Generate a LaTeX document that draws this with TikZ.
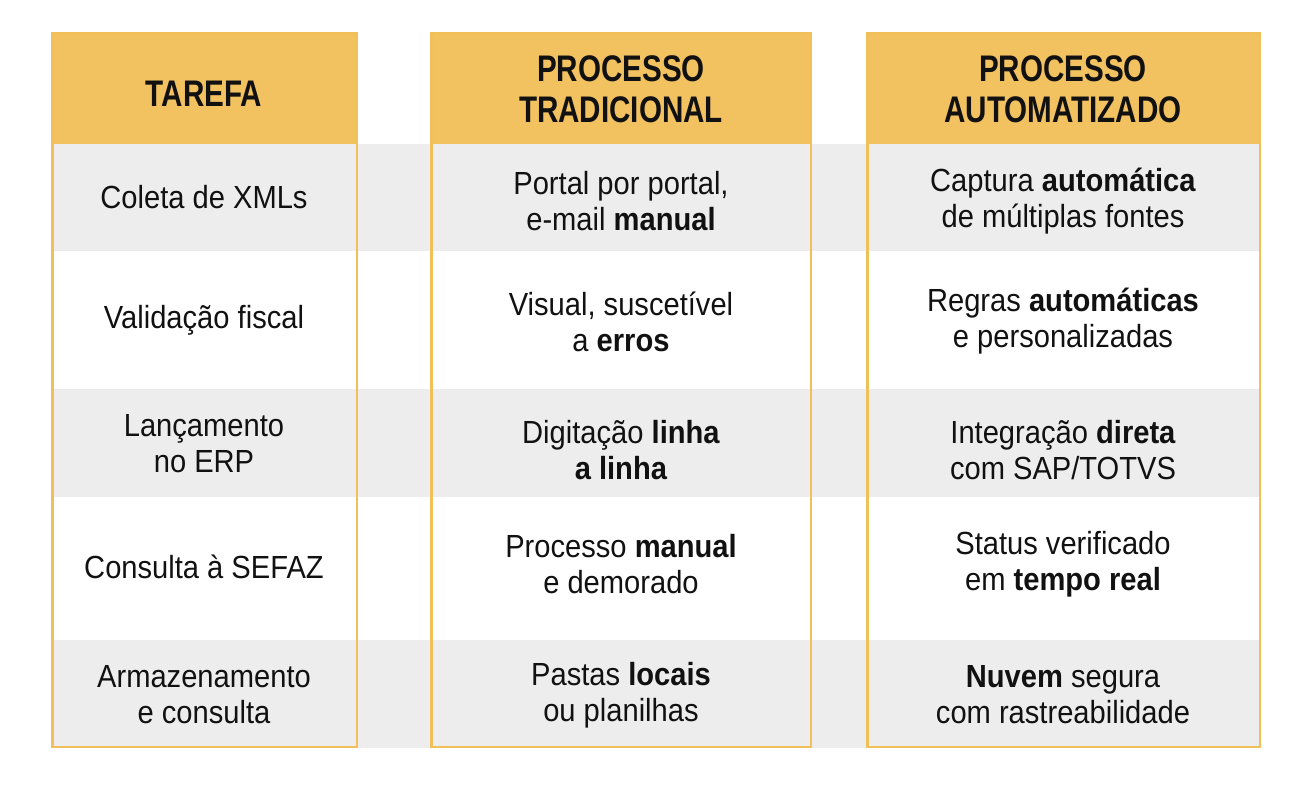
\documentclass[tikz,border=0pt]{standalone}
\usepackage{fontspec}
\setmainfont{Liberation Sans}[FakeStretch=0.91]
\newfontfamily\headfont{Liberation Sans}[FakeStretch=0.8]
\definecolor{gold}{HTML}{F2C160}
\definecolor{goldline}{HTML}{F2C05A}
\definecolor{band}{HTML}{EDEDED}
\definecolor{ink}{HTML}{111111}

\begin{document}
\begin{tikzpicture}[x=1pt, y=-1pt, line join=miter,
	cell/.style={align=center, text=ink, inner sep=0pt,
		font=\fontsize{32}{36}\selectfont},
	head/.style={align=center, text=ink, inner sep=0pt,
		font=\headfont\fontsize{37}{41}\selectfont\bfseries},
	column/.style={draw=goldline, line width=2.6pt}]
	
	\useasboundingbox (0,0) rectangle (1310,788);
	
	% ===============================
	% ======= GRAY ROW BANDS ========
	% ===============================
	\fill[band] (51,144) rectangle (1261,251);
	\fill[band] (51,389) rectangle (1261,497);
	\fill[band] (51,640) rectangle (1261,748);
	
	% ---- header fills ----
	\fill[gold] (51,32) rectangle (358,144);
	\fill[gold] (430,32) rectangle (812,144);
	\fill[gold] (866,32) rectangle (1261,144);
	
	% ---- column outlines ----
	\draw[column] (52.3,33.3) rectangle (357,747);
	\draw[column] (431.3,33.3) rectangle (811,747);
	\draw[column] (867.3,33.3) rectangle (1260,747);
	
	% ===============================
	% =========== HEADER ============
	% ===============================
	\node[head] (tarefa) at (204,94) {TAREFA};
	\node[head] (trad) at (621,89) {PROCESSO\\TRADICIONAL};
	\node[head] (auto) at (1063,89) {PROCESSO\\AUTOMATIZADO};
	
	% ===============================
	% ============ ROWS =============
	% ===============================
	% ---- Coleta ----
	\node[cell] (coleta) at (204,197) {Coleta de XMLs};
	\node[cell] (coletaTrad) at (621,201) {Portal por portal,\\e-mail \textbf{manual}};
	\node[cell] (coletaAuto) at (1063,201) {Captura \textbf{automática}\\de múltiplas fontes};
	
	% ---- Validacao ----
	\node[cell] (valid) at (204,320) {Validação fiscal};
	\node[cell] (validTrad) at (621,322) {Visual, suscetível\\a \textbf{erros}};
	\node[cell] (validAuto) at (1063,321) {Regras \textbf{automáticas}\\e personalizadas};
	
	% ---- Lancamento ----
	\node[cell] (lanc) at (204,444) {Lançamento\\no ERP};
	\node[cell] (lancTrad) at (621,450) {Digitação \textbf{linha}\\\textbf{a linha}};
	\node[cell] (lancAuto) at (1063,450) {Integração \textbf{direta}\\com SAP/TOTVS};
	
	% ---- SEFAZ ----
	\node[cell] (sefaz) at (204,567) {Consulta à SEFAZ};
	\node[cell] (sefazTrad) at (621,564) {Processo \textbf{manual}\\e demorado};
	\node[cell] (sefazAuto) at (1063,564) {Status verificado\\em \textbf{tempo real}};
	
	% ---- Armazenamento ----
	\node[cell] (arm) at (204,695) {Armazenamento\\e consulta};
	\node[cell] (armTrad) at (621,695) {Pastas \textbf{locais}\\ou planilhas};
	\node[cell] (armAuto) at (1063,695) {\textbf{Nuvem} segura\\com rastreabilidade};
	
\end{tikzpicture}
\end{document}
